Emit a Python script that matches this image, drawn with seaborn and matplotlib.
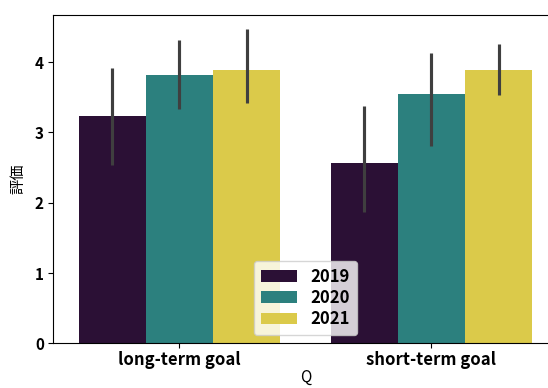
import matplotlib
matplotlib.use("Agg")
import matplotlib.pyplot as plt
import seaborn as sns
import pandas as pd

# Mean rating per question and year, with the lower/upper bounds of each interval
questions = ["long-term goal", "short-term goal"]
years = ["2019", "2020", "2021"]
mean_2019 = [3.23, 2.56]
mean_2020 = [3.82, 3.55]
mean_2021 = [3.89, 3.89]
low_2019 = [2.54, 1.87]
low_2020 = [3.34, 2.80]
low_2021 = [3.42, 3.53]
high_2019 = [3.92, 3.37]
high_2020 = [4.31, 4.13]
high_2021 = [4.47, 4.26]

colors = ["#2b1035", "#2c807e", "#dbca4a"]

means = {"2019": mean_2019, "2020": mean_2020, "2021": mean_2021}
lows = {"2019": low_2019, "2020": low_2020, "2021": low_2021}
highs = {"2019": high_2019, "2020": high_2020, "2021": high_2021}

rows = []
for y in years:
    for q, m in zip(questions, means[y]):
        rows.append({"Q": q, "year": y, "評価": m})
df = pd.DataFrame(rows)

plt.rcParams["font.family"] = ["Noto Sans CJK JP", "DejaVu Sans"]

fig = plt.figure(figsize=(5.48, 3.88), dpi=100)
ax = fig.add_axes([0.0976, 0.1152, 0.9197, 0.8461])

sns.barplot(data=df, x="Q", y="評価", hue="year", hue_order=years,
            palette=colors, saturation=1, errorbar=None, ax=ax)

# interval lines at the centre of each bar
for y, cont in zip(years, ax.containers):
    for bar, lo, hi in zip(cont.patches, lows[y], highs[y]):
        xc = bar.get_x() + bar.get_width() / 2
        ax.plot([xc, xc], [lo, hi], color="#3f3f3f", lw=2.25,
                solid_capstyle="butt", zorder=3)

ax.set_xlim(-0.5, 1.5)
ax.set_ylim(0, 4.67)
ax.set_yticks([0, 1, 2, 3, 4])

for lab in ax.get_xticklabels():
    lab.set_fontweight("bold")
    lab.set_fontsize(12)
for lab in ax.get_yticklabels():
    lab.set_fontweight("bold")
    lab.set_fontsize(11)
ax.tick_params(axis="x", pad=2)
ax.set_xlabel("Q", fontsize=11, labelpad=0)
ax.set_ylabel("評価", fontsize=11, labelpad=6)

leg = ax.legend(loc="lower center", title=None, labelspacing=0.2,
                borderpad=0.4, handlelength=2.2,
                prop={"weight": "bold", "size": 12,
                      "family": ["Noto Sans CJK JP", "DejaVu Sans"]})

fig.savefig("out.png", dpi=100)
